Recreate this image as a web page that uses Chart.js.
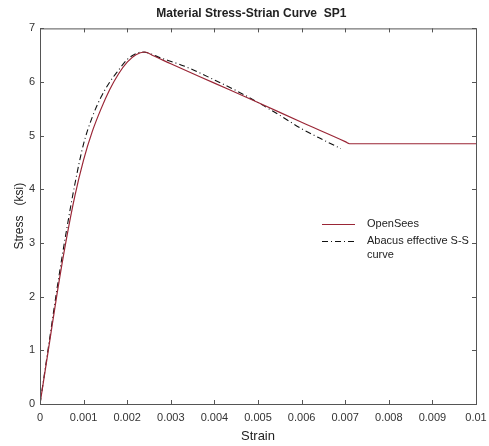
<!DOCTYPE html>
<html lang="en">
<head>
  <meta charset="UTF-8" />
  <title>Material Stress-Strian Curve SP1</title>
  <script src="https://cdn.jsdelivr.net/npm/chart.js"></script>
  <style>
    body { margin: 0; background: #fff; }
    canvas { display: block; }
  </style>
</head>
<body>
  <canvas id="ssChart" width="489" height="446"></canvas>

  <script>
    // OpenSees material curve
    const openStrain = [0, 0.0002, 0.0004, 0.0006, 0.0008, 0.001, 0.0012, 0.0014, 0.0016, 0.0018,
      0.002, 0.0022, 0.0024, 0.0026, 0.003, 0.004, 0.005, 0.006, 0.007, 0.0071,
      0.0072, 0.01];
    const openStress = [0, 1.05, 2.1, 3.05, 3.88, 4.55, 5.08, 5.5, 5.86, 6.15,
      6.37, 6.51, 6.56, 6.49, 6.34, 5.98, 5.62, 5.25, 4.89, 4.85,
      4.85, 4.85];

    // Abacus effective S-S curve
    const abaStrain = [0, 0.0002, 0.0004, 0.0006, 0.0008, 0.001, 0.0012, 0.0014, 0.0016, 0.0018,
      0.002, 0.0022, 0.00235, 0.0028, 0.0033, 0.004, 0.0045, 0.005, 0.0055, 0.006,
      0.0065, 0.0069];
    const abaStress = [0, 1.1, 2.2, 3.2, 4.1, 4.85, 5.35, 5.72, 6.0, 6.22,
      6.42, 6.53, 6.56, 6.44, 6.3, 6.04, 5.84, 5.62, 5.38, 5.13,
      4.92, 4.76];

    const xTicks = [0, 0.001, 0.002, 0.003, 0.004, 0.005, 0.006, 0.007, 0.008, 0.009, 0.01];
    const yTicks = [0, 1, 2, 3, 4, 5, 6, 7];
    const legendLines = [["OpenSees"], ["Abacus effective S-S", "curve"]];

    const toPoints = (xs, ys) => xs.map((x, i) => ({ x: x, y: ys[i] }));
    const FONT = "'Liberation Sans', Arial, sans-serif";

    // matlab-like box with inward ticks plus an in-plot legend
    const framePlugin = {
      id: "frame",
      afterDatasetsDraw(chart) {
        const ctx = chart.ctx;
        const a = chart.chartArea;
        const xs = chart.scales.x, ys = chart.scales.y;
        ctx.save();
        ctx.strokeStyle = "#555";
        ctx.lineWidth = 1;
        ctx.strokeRect(a.left + 0.5, a.top + 0.5, a.right - a.left, a.bottom - a.top);
        ctx.beginPath();
        xTicks.forEach(v => {
          const px = Math.round(xs.getPixelForValue(v)) + 0.5;
          ctx.moveTo(px, a.bottom); ctx.lineTo(px, a.bottom - 4);
          ctx.moveTo(px, a.top); ctx.lineTo(px, a.top + 4);
        });
        yTicks.forEach(v => {
          const py = Math.round(ys.getPixelForValue(v)) + 0.5;
          ctx.moveTo(a.left, py); ctx.lineTo(a.left + 4, py);
          ctx.moveTo(a.right, py); ctx.lineTo(a.right - 4, py);
        });
        ctx.stroke();

        // legend
        let ly = 224;
        ctx.font = "11px " + FONT;
        ctx.textBaseline = "middle";
        ctx.fillStyle = "#222";
        chart.data.datasets.forEach((ds, i) => {
          ctx.strokeStyle = ds.borderColor;
          ctx.lineWidth = 1;
          ctx.setLineDash(ds.borderDash || []);
          ctx.beginPath();
          ctx.moveTo(322, ly + 0.5);
          ctx.lineTo(355, ly + 0.5);
          ctx.stroke();
          ctx.setLineDash([]);
          legendLines[i].forEach((t, j) => ctx.fillText(t, 367, ly + j * 14));
          ly += 17;
        });
        ctx.restore();
      }
    };

    new Chart(document.getElementById("ssChart"), {
      type: "line",
      data: {
        datasets: [
          {
            label: "OpenSees",
            data: toPoints(openStrain, openStress),
            borderColor: "#9a2636",
            borderWidth: 1.2,
            pointRadius: 0,
            cubicInterpolationMode: "monotone"
          },
          {
            label: "Abacus effective S-S curve",
            data: toPoints(abaStrain, abaStress),
            borderColor: "#111",
            borderWidth: 1.1,
            borderDash: [6, 3, 1, 3],
            pointRadius: 0,
            cubicInterpolationMode: "monotone"
          }
        ]
      },
      options: {
        responsive: false,
        animation: false,
        devicePixelRatio: 1,
        layout: { padding: { left: 4, right: 13, top: 0, bottom: 0 } },
        plugins: {
          legend: { display: false },
          tooltip: { enabled: false },
          title: {
            display: true,
            fullSize: false,
            text: "Material Stress-Strian Curve  SP1    ",
            color: "#222",
            font: { family: FONT, size: 12, weight: "bold" },
            padding: { top: 6, bottom: 8 }
          }
        },
        scales: {
          x: {
            type: "linear",
            min: 0,
            max: 0.01,
            afterBuildTicks: s => { s.ticks = xTicks.map(v => ({ value: v })); },
            afterFit: s => { s.height = 42; s.paddingLeft = 0; s.paddingRight = 0; },
            grid: { display: false, drawTicks: false },
            border: { display: false },
            ticks: {
              color: "#333",
              font: { family: FONT, size: 11 },
              padding: 7,
              maxRotation: 0,
              autoSkip: false,
              callback: v => String(Math.round(v * 1000) / 1000)
            },
            title: {
              display: true,
              text: "Strain",
              color: "#222",
              font: { family: FONT, size: 13 },
              padding: { top: 0, bottom: 2 }
            }
          },
          y: {
            type: "linear",
            min: 0,
            max: 7,
            afterBuildTicks: s => { s.ticks = yTicks.map(v => ({ value: v })); },
            afterFit: s => { s.width = 36; },
            grid: { display: false, drawTicks: false },
            border: { display: false },
            ticks: {
              color: "#333",
              font: { family: FONT, size: 11 },
              padding: 5
            },
            title: {
              display: true,
              text: "Stress   (ksi)",
              color: "#222",
              font: { family: FONT, size: 12 },
              padding: { top: 8, bottom: 0 }
            }
          }
        }
      },
      plugins: [framePlugin]
    });
  </script>
</body>
</html>
